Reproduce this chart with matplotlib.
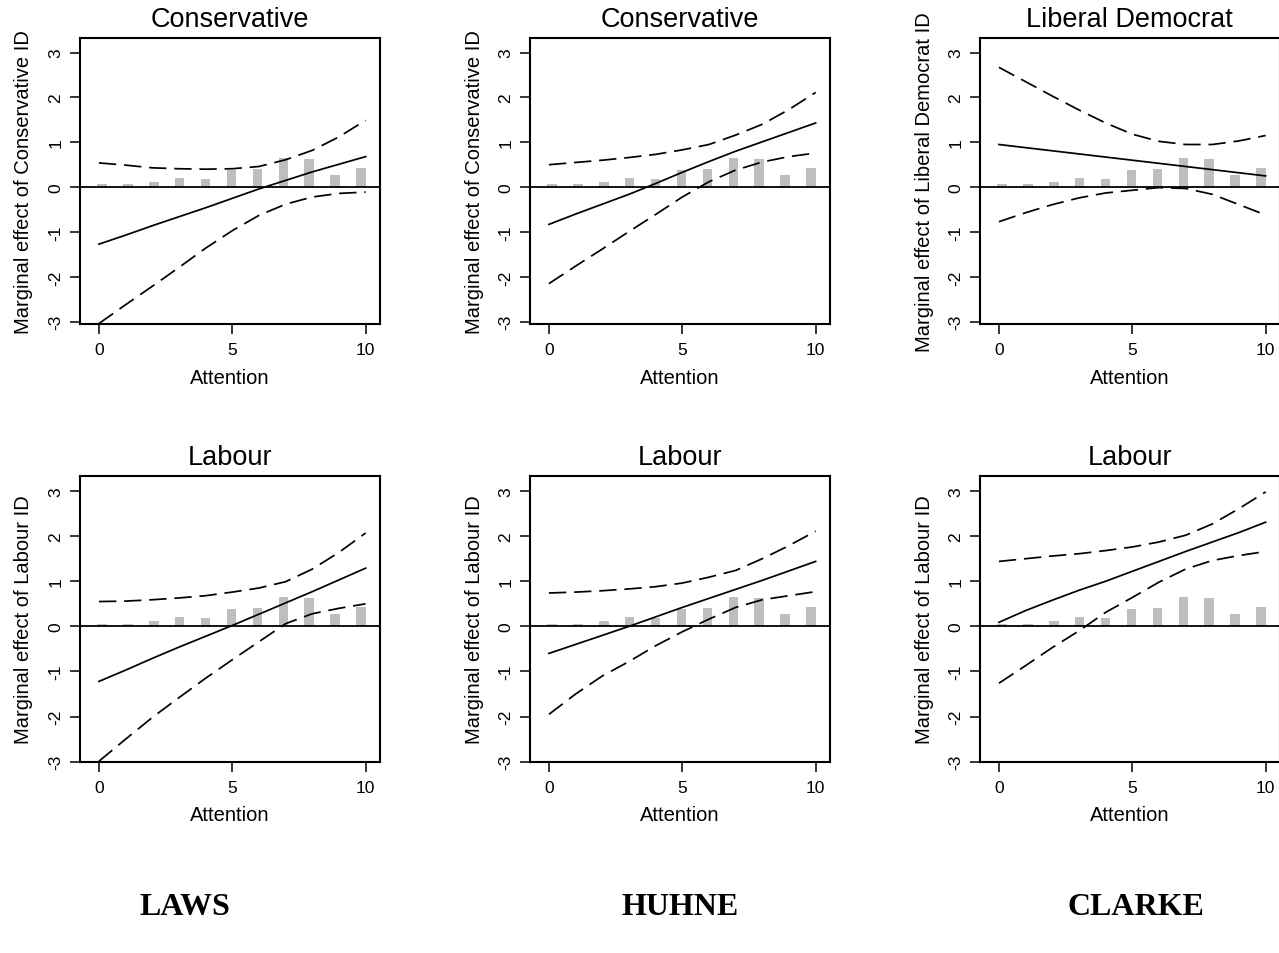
import matplotlib
matplotlib.use("Agg")
import matplotlib.pyplot as plt
import numpy as np

plt.rcParams['font.family'] = ['Liberation Sans', 'DejaVu Sans']
plt.rcParams['axes.unicode_minus'] = False

# ---------------- data ----------------
attention = [0, 1, 2, 3, 4, 5, 6, 7, 8, 9, 10]
dist_share = [0.06, 0.06, 0.12, 0.21, 0.19, 0.38, 0.40, 0.66, 0.63, 0.28, 0.42]

titles = ["Conservative", "Conservative", "Liberal Democrat",
          "Labour", "Labour", "Labour"]
ylabels = ["Marginal effect of Conservative ID", "Marginal effect of Conservative ID",
           "Marginal effect of Liberal Democrat ID",
           "Marginal effect of Labour ID", "Marginal effect of Labour ID",
           "Marginal effect of Labour ID"]
candidates = ["LAWS", "HUHNE", "CLARKE"]

laws_con_mid = [-1.27, -1.07, -0.86, -0.66, -0.46, -0.25, -0.04, 0.15, 0.34, 0.51, 0.68]
laws_con_up = [0.54, 0.49, 0.43, 0.41, 0.40, 0.41, 0.46, 0.61, 0.82, 1.12, 1.49]
laws_con_lo = [-3.04, -2.62, -2.21, -1.79, -1.36, -0.97, -0.63, -0.38, -0.22, -0.14, -0.11]

huhne_con_mid = [-0.83, -0.60, -0.38, -0.16, 0.08, 0.33, 0.57, 0.80, 1.01, 1.22, 1.43]
huhne_con_up = [0.50, 0.55, 0.60, 0.66, 0.73, 0.83, 0.95, 1.16, 1.40, 1.73, 2.11]
huhne_con_lo = [-2.15, -1.76, -1.38, -0.99, -0.61, -0.22, 0.12, 0.38, 0.56, 0.68, 0.76]

clarke_ld_mid = [0.95, 0.88, 0.81, 0.74, 0.67, 0.60, 0.53, 0.46, 0.39, 0.32, 0.25]
clarke_ld_up = [2.67, 2.35, 2.03, 1.72, 1.43, 1.18, 1.02, 0.95, 0.95, 1.03, 1.15]
clarke_ld_lo = [-0.77, -0.57, -0.39, -0.24, -0.13, -0.07, -0.01, -0.03, -0.16, -0.39, -0.62]

laws_lab_mid = [-1.22, -0.97, -0.71, -0.46, -0.22, 0.02, 0.27, 0.52, 0.77, 1.03, 1.29]
laws_lab_up = [0.55, 0.56, 0.59, 0.63, 0.68, 0.76, 0.85, 0.99, 1.27, 1.64, 2.07]
laws_lab_lo = [-2.99, -2.50, -2.02, -1.58, -1.15, -0.74, -0.34, 0.06, 0.28, 0.40, 0.50]

huhne_lab_mid = [-0.60, -0.40, -0.20, 0.00, 0.21, 0.42, 0.62, 0.82, 1.02, 1.23, 1.44]
huhne_lab_up = [0.74, 0.76, 0.79, 0.83, 0.88, 0.96, 1.09, 1.24, 1.50, 1.79, 2.11]
huhne_lab_lo = [-1.95, -1.50, -1.10, -0.78, -0.43, -0.12, 0.16, 0.42, 0.59, 0.68, 0.77]

clarke_lab_mid = [0.09, 0.35, 0.58, 0.80, 1.00, 1.22, 1.44, 1.66, 1.87, 2.08, 2.31]
clarke_lab_up = [1.44, 1.50, 1.56, 1.61, 1.68, 1.76, 1.87, 2.02, 2.27, 2.61, 2.98]
clarke_lab_lo = [-1.26, -0.87, -0.47, -0.10, 0.31, 0.64, 0.98, 1.27, 1.46, 1.57, 1.66]

panels = [
    (laws_con_mid, laws_con_up, laws_con_lo),
    (huhne_con_mid, huhne_con_up, huhne_con_lo),
    (clarke_ld_mid, clarke_ld_up, clarke_ld_lo),
    (laws_lab_mid, laws_lab_up, laws_lab_lo),
    (huhne_lab_mid, huhne_lab_up, huhne_lab_lo),
    (clarke_lab_mid, clarke_lab_up, clarke_lab_lo),
]

# ---------------- layout ----------------
W, H = 1279, 954
fig = plt.figure(figsize=(W / 100, H / 100), dpi=100)

col_left = [80, 530, 980]
ax_w = 299.5
row_box = [(38.7, 325.0), (476.7, 762.7)]
row_ylim = [(-3.05, 3.33), (-3.0, 3.34)]

dash = (0, (10, 4.5))
lw = 1.25

for i, (mid, up, lo) in enumerate(panels):
    r, c = divmod(i, 3)
    top, bot = row_box[r]
    ax = fig.add_axes([col_left[c] / W, 1 - bot / H, ax_w / W, (bot - top) / H])
    x = np.array(attention, dtype=float)
    bar_pos = 0.11 + 0.972 * x
    ax.bar(bar_pos, dist_share, width=0.36, color='#bebebe', zorder=1)
    ax.axhline(0, color='black', lw=1.3, zorder=2)
    ax.plot(x, mid, color='black', lw=lw, zorder=3)
    ax.plot(x, up, color='black', lw=lw, linestyle=dash, zorder=3)
    ax.plot(x, lo, color='black', lw=lw, linestyle=dash, zorder=3)

    ax.set_xlim(-0.71, 10.52)
    ax.set_ylim(*row_ylim[r])
    ax.set_xticks([0, 5, 10])
    ax.set_yticks([-3, -2, -1, 0, 1, 2, 3])
    ax.tick_params(direction='out', length=7, width=1.1, labelsize=12.5,
                   color='black', pad=5)
    ax.tick_params(axis='x', pad=6)
    for lbl in ax.get_yticklabels():
        lbl.set_rotation(90)
        lbl.set_va('center')
    for s in ax.spines.values():
        s.set_linewidth(1.5)
    h = bot - top
    ax.set_xlabel("Attention", fontsize=14.5, va='center')
    ax.xaxis.set_label_coords(0.5, -53 / h)
    ax.set_ylabel(ylabels[i], fontsize=14.5, va='center')
    ax.yaxis.set_label_coords(-56 / ax_w, 0.5)
    ax.set_title(titles[i], fontsize=19.5, va='center', y=1 + 18.7 / h, pad=0)

label_x = [185, 680, 1136]
for cx, name in zip(label_x, candidates):
    fig.text(cx / W, 1 - 908 / H, name, ha='center', va='center',
             fontsize=23, fontweight='bold', family=['Liberation Serif', 'DejaVu Serif'])

fig.savefig("out.png", dpi=100)
